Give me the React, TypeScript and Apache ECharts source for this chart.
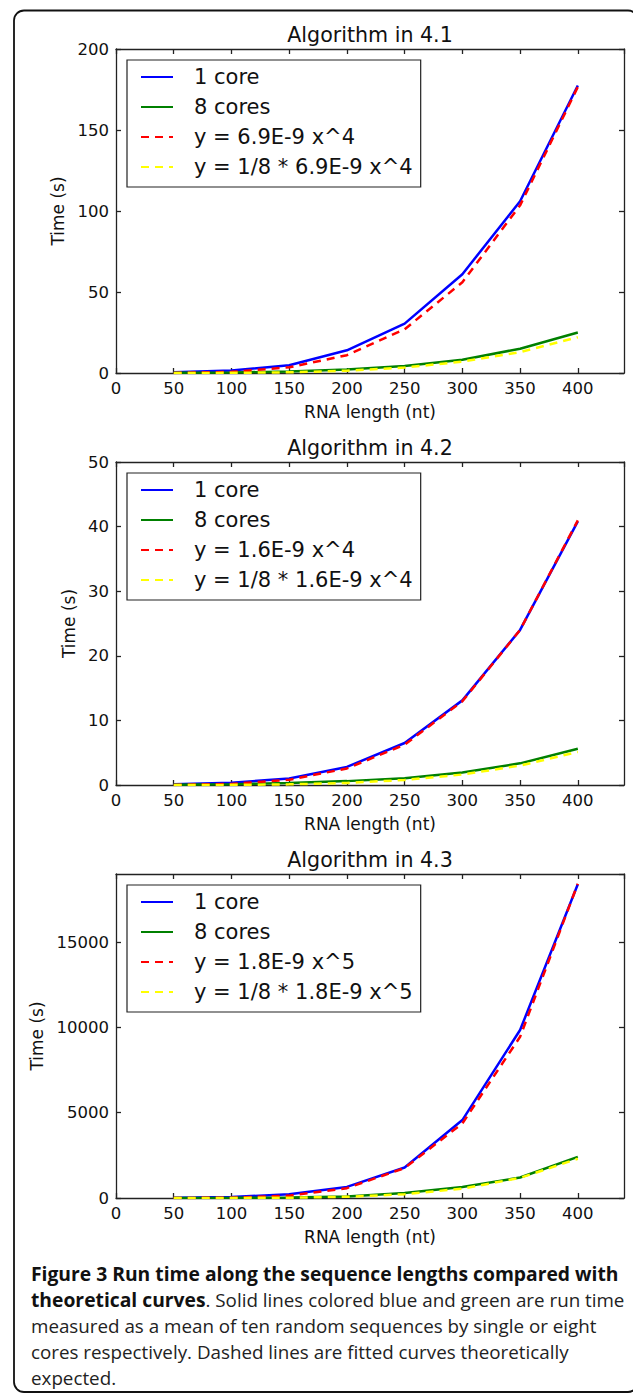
import React, { useEffect, useRef } from "react";
import * as echarts from "echarts";

// ---------- data ----------
const lengths = [50, 100, 150, 200, 250, 300, 350, 400];

const titles = ["Algorithm in 4.1", "Algorithm in 4.2", "Algorithm in 4.3"];

// Algorithm 4.1
const core1A = [0.5, 1.6, 4.8, 14.0, 30.5, 61.0, 106.0, 177.5];
const core8A = [0.1, 0.3, 0.9, 2.1, 4.3, 8.2, 15.0, 25.0];
const fit1A = [0.04, 0.7, 3.5, 11.0, 27.0, 56.0, 103.5, 176.6];
const fit8A = [0.005, 0.09, 0.44, 1.4, 3.4, 7.0, 12.9, 22.1];

// Algorithm 4.2
const core1B = [0.1, 0.35, 1.0, 2.8, 6.5, 13.1, 24.0, 40.8];
const core8B = [0.03, 0.1, 0.3, 0.6, 1.05, 1.95, 3.35, 5.6];
const fit1B = [0.01, 0.16, 0.81, 2.56, 6.25, 12.96, 24.0, 40.96];
const fit8B = [0.001, 0.02, 0.1, 0.32, 0.78, 1.62, 3.0, 5.12];

// Algorithm 4.3
const core1C = [10, 60, 220, 650, 1790, 4570, 9850, 18400];
const core8C = [2, 8, 30, 95, 290, 640, 1200, 2410];
const fit1C = [0.6, 18, 137, 576, 1758, 4374, 9454, 18432];
const fit8C = [0.07, 2.3, 17, 72, 220, 547, 1182, 2304];

const seriesNames = [
  ["1 core", "8 cores", "y = 6.9E-9 x^4", "y = 1/8 * 6.9E-9 x^4"],
  ["1 core", "8 cores", "y = 1.6E-9 x^4", "y = 1/8 * 1.6E-9 x^4"],
  ["1 core", "8 cores", "y = 1.8E-9 x^5", "y = 1/8 * 1.8E-9 x^5"],
];
const seriesData = [
  [core1A, core8A, fit1A, fit8A],
  [core1B, core8B, fit1B, fit8B],
  [core1C, core8C, fit1C, fit8C],
];

const xMax = 440;
const xInterval = 50;
const yMaxes = [200, 50, 19000];
const yIntervals = [50, 10, 5000];

const xName = "RNA length (nt)";
const yName = "Time (s)";

const captionLines = [
  [["b", "Figure 3 Run time along the sequence lengths compared with"]],
  [
    ["b", "theoretical curves"],
    ["r", ". Solid lines colored blue and green are run time"],
  ],
  [["r", "measured as a mean of ten random sequences by single or eight"]],
  [["r", "cores respectively. Dashed lines are fitted curves theoretically"]],
  [["r", "expected."]],
];

// ---------- styling ----------
const FONT = "'DejaVu Sans', sans-serif";
const CAP_FONT = "'Open Sans', sans-serif";
const AX = "#222";
const colors = ["#0000ff", "#008000", "#ff0000", "#ffff00"];
const dashes: any[] = ["solid", "solid", [8, 6], [8, 6]];

const gridLeft = 116;
const gridWidth = 508;
const gridTops = [49, 462, 874];
const gridHeights = [324, 323, 324];
const yNameGaps = [47, 36, 69.5];
const captionY = [1273, 1299.5, 1326, 1352, 1378];

function buildOption() {
  const grid: any[] = [];
  const xAxis: any[] = [];
  const yAxis: any[] = [];
  const series: any[] = [];
  const legend: any[] = [];
  const graphic: any[] = [];

  for (let i = 0; i < 3; i++) {
    grid.push({
      left: gridLeft,
      top: gridTops[i],
      width: gridWidth,
      height: gridHeights[i],
      containLabel: false,
    });
    const lineStyle = { color: AX, width: 1.3 };
    const tick = { show: true, inside: true, length: 5, lineStyle };
    // bottom x
    xAxis.push({
      type: "value",
      gridIndex: i,
      position: "bottom",
      min: 0,
      max: xMax,
      interval: xInterval,
      axisLine: { show: true, onZero: false, lineStyle },
      axisTick: tick,
      splitLine: { show: false },
      axisLabel: {
        margin: 7,
        fontSize: 16.5,
        fontFamily: FONT,
        color: "#111",
        showMaxLabel: false,
        formatter: (v: number) => String(v),
      },
      name: xName,
      nameLocation: "middle",
      nameGap: 30.5,
      nameTextStyle: { fontSize: 17, fontFamily: FONT, color: "#111" },
    });
    // top x
    xAxis.push({
      type: "value",
      gridIndex: i,
      position: "top",
      min: 0,
      max: xMax,
      interval: xInterval,
      axisLine: { show: true, onZero: false, lineStyle },
      axisTick: tick,
      splitLine: { show: false },
      axisLabel: { show: false },
    });
    // left y
    yAxis.push({
      type: "value",
      gridIndex: i,
      position: "left",
      min: 0,
      max: yMaxes[i],
      interval: yIntervals[i],
      axisLine: { show: true, onZero: false, lineStyle },
      axisTick: tick,
      splitLine: { show: false },
      axisLabel: {
        margin: 7,
        fontSize: 16.5,
        fontFamily: FONT,
        color: "#111",
        showMaxLabel: i === 2 ? false : true,
        formatter: (v: number) => String(v),
      },
      name: yName,
      nameLocation: "middle",
      nameGap: yNameGaps[i],
      nameTextStyle: { fontSize: 17, fontFamily: FONT, color: "#111" },
    });
    // right y
    yAxis.push({
      type: "value",
      gridIndex: i,
      position: "right",
      min: 0,
      max: yMaxes[i],
      interval: yIntervals[i],
      axisLine: { show: true, onZero: false, lineStyle },
      axisTick: tick,
      splitLine: { show: false },
      axisLabel: { show: false },
    });

    for (let s = 0; s < 4; s++) {
      series.push({
        type: "line",
        name: seriesNames[i][s],
        xAxisIndex: 2 * i,
        yAxisIndex: 2 * i,
        data: lengths.map((x, k) => [x, seriesData[i][s][k]]),
        symbol: "none",
        showSymbol: false,
        clip: true,
        z: 2 + s,
        itemStyle: { color: colors[s] },
        lineStyle: { color: colors[s], width: 2.5, type: dashes[s], cap: "butt" },
        emphasis: { disabled: true },
      });
    }

    legend.push({
      data: seriesNames[i],
      left: gridLeft + 11,
      top: gridTops[i] + 11,
      orient: "vertical",
      backgroundColor: "#fff",
      borderColor: "#222",
      borderWidth: 1.2,
      borderRadius: 0,
      padding: [5, 8, 8, 13],
      itemWidth: 32,
      itemHeight: 14,
      itemGap: 6,
      selectedMode: false,
      itemStyle: { opacity: 0, borderWidth: 0 },
      textStyle: {
        fontSize: 21,
        fontFamily: FONT,
        color: "#111",
        lineHeight: 24,
        padding: [0, 0, 0, 16],
      },
    });

    graphic.push({
      type: "text",
      x: gridLeft + gridWidth / 2,
      y: gridTops[i] - 14,
      style: {
        text: titles[i],
        fill: "#111",
        font: `20.6px ${FONT}`,
        fontSize: 20.6,
        fontFamily: FONT,
        align: "center",
        verticalAlign: "middle",
        textAlign: "center",
        textVerticalAlign: "middle",
      },
    });
  }

  // outer frame
  graphic.push({
    type: "rect",
    shape: { x: 14, y: 10.5, width: 624, height: 1381.5, r: 10 },
    style: { fill: "none", stroke: "#111", lineWidth: 1.8 },
    z: 10,
  });

  // caption
  captionLines.forEach((parts, li) => {
    graphic.push({
      type: "text",
      x: 31,
      y: captionY[li],
      style: {
        text: parts.map(([k, t]) => `{${k}|${t}}`).join(""),
        align: "left",
        verticalAlign: "middle",
        textAlign: "left",
        textVerticalAlign: "middle",
        rich: {
          b: {
            fontFamily: CAP_FONT,
            fontSize: 19.3,
            fontWeight: "bold",
            fill: "#111",
            color: "#111",
          },
          r: {
            fontFamily: CAP_FONT,
            fontSize: 18.8,
            fontWeight: "normal",
            fill: "#222",
            color: "#222",
          },
        },
      },
    });
  });

  return {
    animation: false,
    backgroundColor: "#fff",
    grid,
    xAxis,
    yAxis,
    series,
    legend,
    graphic,
  };
}

export default function App() {
  const ref = useRef<HTMLDivElement>(null);
  useEffect(() => {
    if (!ref.current) return;
    const chart = echarts.init(ref.current, null, { renderer: "svg" });
    chart.setOption(buildOption() as any);
    return () => chart.dispose();
  }, []);
  return (
    <div
      ref={ref}
      style={{ position: "absolute", left: 0, top: 0, width: 633, height: 1397 }}
    />
  );
}
